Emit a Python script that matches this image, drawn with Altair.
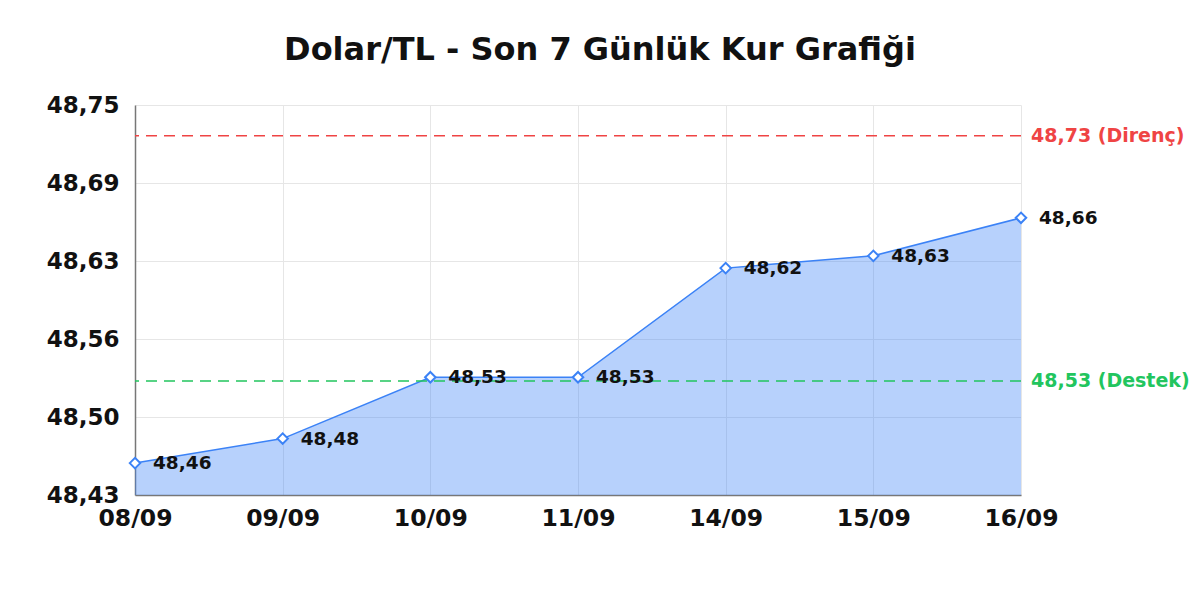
import json
import altair as alt
import pandas as pd

dates = ["08/09", "09/09", "10/09", "11/09", "14/09", "15/09", "16/09"]
rates = [48.460, 48.480, 48.530, 48.530, 48.619, 48.629, 48.660]
level_values = [48.727, 48.527]
level_names = ["Direnç", "Destek"]
level_colors = ["#ef4444", "#22c55e"]
y_ticks = [48.434, 48.4976, 48.5612, 48.6248, 48.6884, 48.752]
y_tick_labels = ["48,43", "48,50", "48,56", "48,63", "48,69", "48,75"]

W, H = 886, 390
BLUE = "#3b82f6"
FONT = "DejaVu Sans"

df = pd.DataFrame({"date": dates, "rate": rates})
lv = pd.DataFrame({"value": level_values, "name": level_names, "color": level_colors})

xenc = alt.X(
    "date:O", sort=dates,
    scale=alt.Scale(type="point", padding=0),
    axis=alt.Axis(title=None, labelAngle=0, labelFont=FONT, labelFontWeight="bold",
                  labelFontSize=23.5, labelColor="#111", labelPadding=11, ticks=False,
                  domainColor="#777", domainWidth=1.5, grid=True, gridColor="#e6e6e6"),
)
yscale = alt.Scale(domain=[y_ticks[0], y_ticks[-1]], nice=False, zero=False)
label_expr = f"{json.dumps(y_tick_labels)}[indexof({json.dumps(y_ticks)}, datum.value)]"
yenc = alt.Y(
    "rate:Q", scale=yscale,
    axis=alt.Axis(title=None, values=y_ticks, labelExpr=label_expr, labelFont=FONT,
                  labelFontWeight="bold", labelFontSize=23, labelColor="#111",
                  labelPadding=16, ticks=False, domainColor="#777", domainWidth=1.5,
                  grid=True, gridColor="#e6e6e6"),
)

base = alt.Chart(df).encode(x=xenc, y=yenc)
area = base.mark_area(color=BLUE, opacity=0.37, clip=True)
line = base.mark_line(color=BLUE, strokeWidth=1.5)
pts = base.mark_point(shape="diamond", filled=True, fill="white", stroke=BLUE,
                      strokeWidth=2, size=110, opacity=1)
lbl = base.transform_calculate(
    label="replace(format(datum.rate, '.2f'), '.', ',')"
).mark_text(align="left", baseline="middle", dx=18, dy=0, font=FONT,
            fontWeight="bold", fontSize=18.5, color="#111").encode(text="label:N")

rules = alt.Chart(lv).mark_rule(strokeDash=[11, 7], strokeWidth=1.5).encode(
    y=alt.Y("value:Q", scale=yscale),
    color=alt.Color("color:N", scale=None),
)
rule_lbl = alt.Chart(lv).transform_calculate(
    label="replace(format(datum.value, '.2f'), '.', ',') + ' (' + datum.name + ')'"
).mark_text(align="left", baseline="middle", dx=10, font=FONT, fontWeight="bold",
            fontSize=19).encode(
    x=alt.value(W),
    y=alt.Y("value:Q", scale=yscale),
    text="label:N",
    color=alt.Color("color:N", scale=None),
)

chart = alt.layer(area, line, rules, pts, lbl, rule_lbl).properties(
    width=W, height=H,
    title=alt.TitleParams("Dolar/TL - Son 7 Günlük Kur Grafiği", font=FONT,
                          fontSize=32, fontWeight="bold", color="#111",
                          anchor="middle", dx=22, offset=27),
    autosize="none",
    padding={"left": 127, "top": 97, "right": 170, "bottom": 90},
).configure_view(stroke=None)

chart.save("out.html", embed_options={"renderer": "svg", "actions": False})
